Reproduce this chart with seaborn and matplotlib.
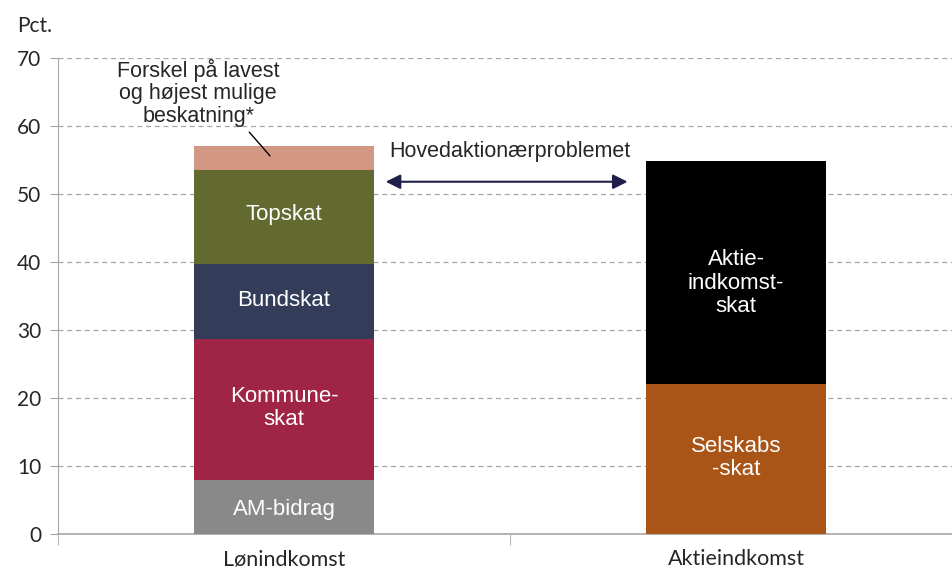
import matplotlib
matplotlib.use("Agg")
import matplotlib.pyplot as plt
import seaborn as sns
import numpy as np

categories = ["Lønindkomst", "Aktieindkomst"]
segment_names = ["AM-bidrag", "Kommuneskat", "Bundskat", "Topskat", "Forskel", "Selskabsskat", "Aktieindkomstskat"]
am_bidrag = [8.0, 0.0]
kommuneskat = [20.7, 0.0]
bundskat = [11.0, 0.0]
topskat = [13.8, 0.0]
forskel = [3.5, 0.0]
selskabsskat = [0.0, 22.0]
aktieskat = [0.0, 32.8]
yticks = [0, 10, 20, 30, 40, 50, 60, 70]

segments = [am_bidrag, kommuneskat, bundskat, topskat, forskel, selskabsskat, aktieskat]
colors = ["#898989", "#A02446", "#333D59", "#636A2F", "#D39884", "#AA5518", "#000000"]

sns.set_style("white")
plt.rcParams["font.family"] = ["Liberation Sans", "DejaVu Sans"]

fig = plt.figure(figsize=(9.53, 5.74), dpi=100)
ax = fig.add_axes([0.0609, 0.0697, 0.9486, 0.8293])

bottom = np.zeros(len(categories))
for vals, col in zip(segments, colors):
    sns.barplot(x=categories, y=vals, bottom=bottom, color=col, width=0.4,
                saturation=1, linewidth=0, edgecolor=col, ax=ax, zorder=3)
    bottom = bottom + np.array(vals)

ax.set_xlim(-0.5, 1.5)
ax.set_ylim(0, 70)
ax.set_yticks(yticks)
ax.yaxis.grid(True, linestyle=(0, (4, 3)), color="#A6A6A6", linewidth=0.9, zorder=0)
ax.set_axisbelow(True)
for s in ["top", "right"]:
    ax.spines[s].set_visible(False)
ax.spines["left"].set_color("#A6A6A6")
ax.spines["bottom"].set_color("#A6A6A6")
ax.spines["bottom"].set_linewidth(1.2)
ax.set_xticks([0, 1])
ax.set_xticklabels(categories, family=["Lato", "DejaVu Sans"], fontsize=15.5)
ax.tick_params(axis="x", length=0, pad=11)
ax.tick_params(axis="y", left=True, length=6, color="#A6A6A6", labelsize=15, pad=6)
for t in ax.get_yticklabels():
    t.set_family(["Lato", "DejaVu Sans"])
# x minor tick between categories
ax.set_xticks([-0.5, 0.5, 1.5], minor=True)
ax.tick_params(axis="x", which="minor", length=8, color="#A6A6A6", bottom=True)
ax.set_ylabel("")
ax.set_xlabel("")

fig.text(0.018, 0.944, "Pct.", fontsize=15, family=["Lato", "DejaVu Sans"])

lab = dict(color="white", fontsize=16, ha="center", va="center", zorder=5, linespacing=1.15)
ax.text(0, 3.6, "AM-bidrag", **lab)
ax.text(0, 18.5, "Kommune-\nskat", **lab)
ax.text(0, 34.4, "Bundskat", **lab)
ax.text(0, 47.0, "Topskat", **lab)
ax.text(1, 36.9, "Aktie-\nindkomst-\nskat", **lab)
ax.text(1, 11.2, "Selskabs\n-skat", **lab)

ax.text(-0.19, 64.9, "Forskel på lavest\nog højest mulige\nbeskatning*", fontsize=15.5,
        ha="center", va="center", linespacing=1.1, zorder=5)
ax.plot([-0.077, -0.031], [59.1, 55.6], color="black", linewidth=1, zorder=5)

ax.annotate("", xy=(0.76, 51.8), xytext=(0.225, 51.8),
            arrowprops=dict(arrowstyle="<|-|>", color="#1F1F4A", lw=1.5,
                            mutation_scale=22, shrinkA=0, shrinkB=0), zorder=5)
ax.text(0.5, 56.2, "Hovedaktionærproblemet", fontsize=15.5, ha="center", va="center", zorder=5)

fig.savefig("out.png", dpi=100)
